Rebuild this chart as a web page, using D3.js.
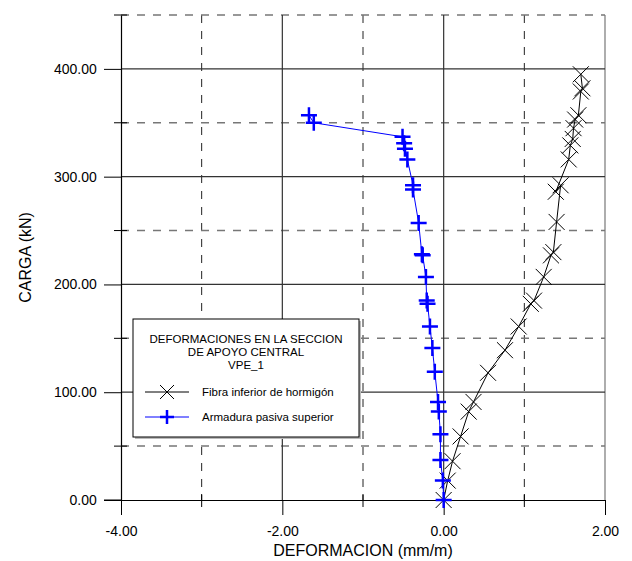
<!DOCTYPE html>
<html>
<head>
<meta charset="utf-8">
<script src="https://cdnjs.cloudflare.com/ajax/libs/d3/7.8.5/d3.min.js"></script>
<style>
  body { margin: 0; background: #fff; }
  text { font-family: "Liberation Sans", Arial, sans-serif; }
</style>
</head>
<body>
<div id="chart"></div>
<script>
// series: deformation (mm/m) vs load (kN)
var fibraX = [0, 0.05, 0.11, 0.21, 0.31, 0.37, 0.55, 0.76, 0.93, 1.08, 1.12, 1.24, 1.33, 1.36, 1.40, 1.45, 1.39, 1.55, 1.57, 1.60, 1.61, 1.63, 1.67, 1.70, 1.72, 1.70];
var fibraY = [0, 18, 36, 59, 82, 91, 118, 139, 161, 182, 185, 207, 227, 230, 258, 292, 286, 316, 329, 335, 345, 353, 357, 379, 382, 395];

var armaduraX = [0, -0.01, -0.04, -0.04, -0.06, -0.07, -0.11, -0.14, -0.17, -0.20, -0.21, -0.22, -0.26, -0.27, -0.31, -0.38, -0.38, -0.45, -0.48, -0.49, -0.51, -1.61, -1.67];
var armaduraY = [0, 18, 37, 61, 82, 91, 119, 141, 161, 182, 185, 207, 227, 228, 257, 288, 292, 316, 326, 331, 337, 350, 357];

var xMajor = [-4, -2, 0, 2];
var xMinor = [-3, -1, 1];
var yMajor = [0, 100, 200, 300, 400];
var yMinor = [50, 150, 250, 350, 450];

var legendTitle = ["DEFORMACIONES EN LA SECCION", "DE APOYO CENTRAL", "VPE_1"];
var seriesNames = ["Fibra inferior de hormigón", "Armadura pasiva superior"];

var svg = d3.select("#chart").append("svg")
  .attr("width", 632)
  .attr("height", 561);

var x = d3.scaleLinear().domain([-4, 2]).range([121, 605]);
var y = d3.scaleLinear().domain([0, 450]).range([500, 15]);

// grid
var grid = svg.append("g");
grid.selectAll(".vmin").data(xMinor).enter().append("line")
  .attr("x1", d => x(d)).attr("x2", d => x(d))
  .attr("y1", y(450)).attr("y2", y(0))
  .attr("stroke", "#222").attr("stroke-width", 1)
  .attr("stroke-dasharray", "8,8");
grid.selectAll(".hmin").data(yMinor).enter().append("line")
  .attr("x1", x(-4)).attr("x2", x(2))
  .attr("y1", d => y(d)).attr("y2", d => y(d))
  .attr("stroke", "#777").attr("stroke-width", 1.5)
  .attr("stroke-dasharray", "8,8");
grid.selectAll(".vmaj").data(xMajor.slice(1)).enter().append("line")
  .attr("x1", d => x(d)).attr("x2", d => x(d))
  .attr("y1", y(450)).attr("y2", y(0))
  .attr("stroke", d => d === 2 ? "#777" : "#333").attr("stroke-width", 1.2);
grid.selectAll(".hmaj").data(yMajor.slice(1)).enter().append("line")
  .attr("x1", x(-4)).attr("x2", x(2))
  .attr("y1", d => y(d)).attr("y2", d => y(d))
  .attr("stroke", "#333").attr("stroke-width", 1.2);

// axes
var fmt = d => d3.format(".2f")(d).replace("\u2212", "-");
var xAxis = svg.append("g")
  .attr("transform", `translate(0, ${y(0)})`)
  .call(d3.axisBottom(x).tickValues(xMajor).tickSize(15).tickSizeOuter(0).tickFormat(fmt));
var yAxis = svg.append("g")
  .attr("transform", `translate(${x(-4)}, 0)`)
  .call(d3.axisLeft(y).tickValues(yMajor).tickSize(17).tickSizeOuter(0).tickFormat(fmt));
[xAxis, yAxis].forEach(function(a) {
  a.select(".domain").attr("stroke", "#000").attr("stroke-width", 1.2);
  a.selectAll(".tick line").attr("stroke", "#000");
  a.selectAll(".tick text").attr("font-size", 14).attr("fill", "#000")
    .attr("font-family", "Liberation Sans, Arial, sans-serif");
});
xAxis.selectAll(".tick text").attr("dy", "1.25em");
yAxis.selectAll(".tick text").attr("dx", "-0.3em");
// extend x axis line to the left tick
svg.append("line").attr("x1", x(-4) - 17).attr("x2", x(-4))
  .attr("y1", y(0)).attr("y2", y(0)).attr("stroke", "#000");

// minor ticks crossing the axes
svg.selectAll(".xmt").data(xMinor).enter().append("line")
  .attr("x1", d => x(d)).attr("x2", d => x(d))
  .attr("y1", y(0) - 6).attr("y2", y(0) + 7).attr("stroke", "#000");
svg.selectAll(".ymt").data(yMinor).enter().append("line")
  .attr("x1", x(-4) - 7).attr("x2", x(-4) + 6)
  .attr("y1", d => y(d)).attr("y2", d => y(d)).attr("stroke", "#000");

// axis titles
svg.append("text")
  .attr("x", (x(-4) + x(2)) / 2).attr("y", 556)
  .attr("text-anchor", "middle").attr("font-size", 16)
  .text("DEFORMACION (mm/m)");
svg.append("text")
  .attr("transform", `translate(31, ${(y(0) + y(450)) / 2}) rotate(-90)`)
  .attr("text-anchor", "middle").attr("font-size", 16)
  .text("CARGA (kN)");

// markers
function crossX(g, cx, cy, s) {
  g.append("path")
    .attr("d", `M${cx - s},${cy - s}L${cx + s},${cy + s}M${cx - s},${cy + s}L${cx + s},${cy - s}`)
    .attr("stroke", "#000").attr("stroke-width", 1).attr("fill", "none");
}
function plus(g, cx, cy, s) {
  g.append("path")
    .attr("d", `M${cx - s},${cy}L${cx + s},${cy}M${cx},${cy - s}L${cx},${cy + s}`)
    .attr("stroke", "#0000ff").attr("stroke-width", 2.5).attr("fill", "none");
}

var fibra = d3.zip(fibraX, fibraY);
var armadura = d3.zip(armaduraX, armaduraY);
var line = d3.line().x(d => x(d[0])).y(d => y(d[1]));

var gF = svg.append("g");
gF.append("path").datum(fibra).attr("d", line)
  .attr("fill", "none").attr("stroke", "#000").attr("stroke-width", 1);
fibra.forEach(d => crossX(gF, x(d[0]), y(d[1]), 8));

var gA = svg.append("g");
gA.append("path").datum(armadura).attr("d", line)
  .attr("fill", "none").attr("stroke", "#0000ff").attr("stroke-width", 1);
armadura.forEach(d => plus(gA, x(d[0]), y(d[1]), 8));

// legend
var lg = svg.append("g").attr("transform", "translate(133, 319)");
lg.append("rect").attr("x", 2).attr("y", 2).attr("width", 226).attr("height", 118).attr("fill", "#bbb");
lg.append("rect").attr("width", 226).attr("height", 118)
  .attr("fill", "#fff").attr("stroke", "#000").attr("stroke-width", 1);
lg.selectAll(".lt").data(legendTitle).enter().append("text")
  .attr("x", 113).attr("y", (d, i) => 24 + i * 13)
  .attr("text-anchor", "middle").attr("font-size", 11.5)
  .text(d => d);
[0, 1].forEach(function(i) {
  var yy = 73 + i * 25;
  var col = i === 0 ? "#000" : "#0000ff";
  lg.append("line").attr("x1", 12).attr("x2", 56).attr("y1", yy).attr("y2", yy)
    .attr("stroke", col).attr("stroke-width", 1);
  if (i === 0) crossX(lg, 34, yy, 7); else plus(lg, 34, yy, 7);
  lg.append("text").attr("x", 69).attr("y", yy + 4)
    .attr("font-size", 11.5).text(seriesNames[i]);
});
</script>
</body>
</html>
